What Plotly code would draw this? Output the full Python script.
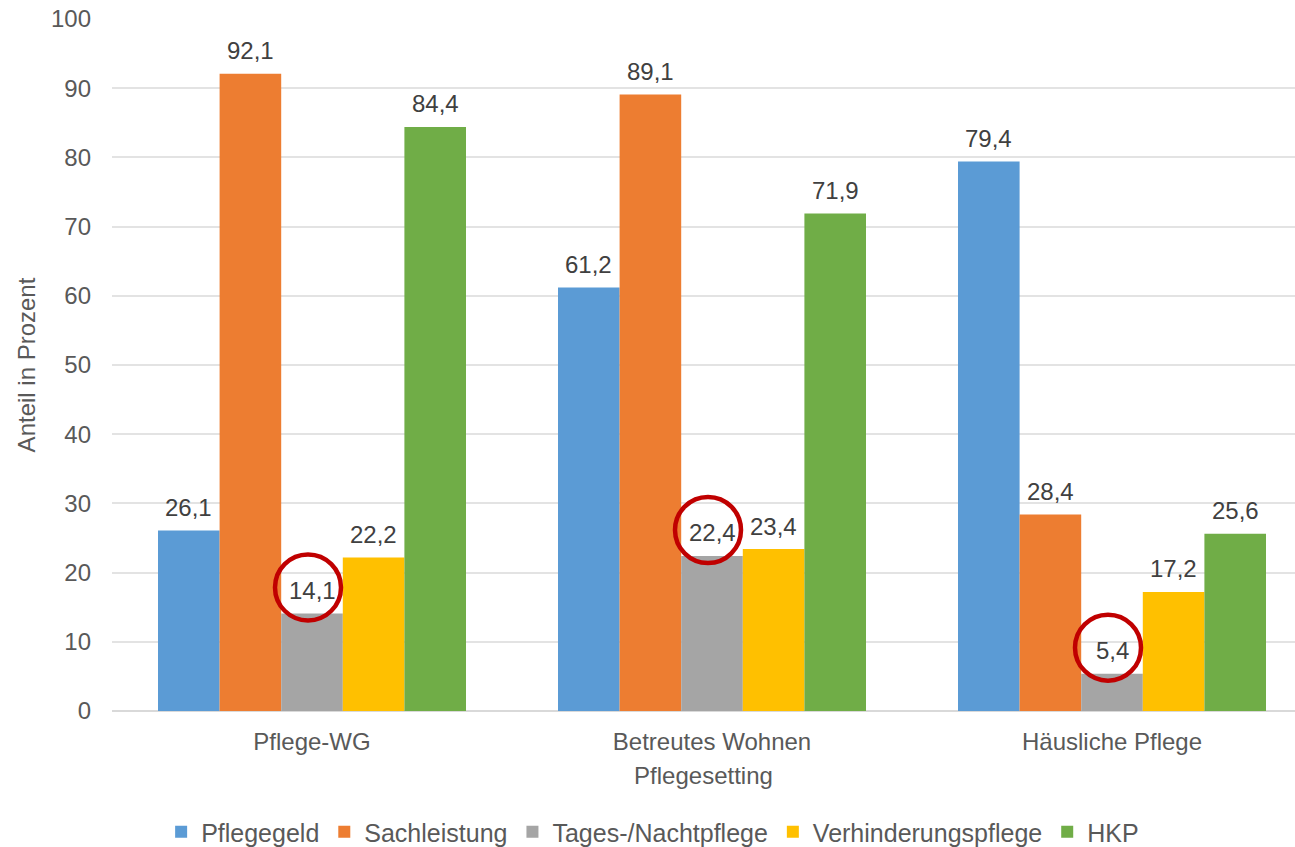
import plotly.graph_objects as go

categories = ["Pflege-WG", "Betreutes Wohnen", "Häusliche Pflege"]
series_names = ["Pflegegeld", "Sachleistung", "Tages-/Nachtpflege", "Verhinderungspflege", "HKP"]
pflegegeld = [26.1, 61.2, 79.4]
sachleistung = [92.1, 89.1, 28.4]
tagespflege = [14.1, 22.4, 5.4]
verhinderung = [22.2, 23.4, 17.2]
hkp = [84.4, 71.9, 25.6]
y_ticks = [0, 10, 20, 30, 40, 50, 60, 70, 80, 90, 100]
circled_series = "Tages-/Nachtpflege"

colors = ["#5B9BD5", "#ED7D31", "#A5A5A5", "#FFC000", "#70AD47"]
values = [pflegegeld, sachleistung, tagespflege, verhinderung, hkp]
xpos = list(range(len(categories)))

FONT = "Liberation Sans, Arial, sans-serif"
TXT = "#595959"
BARGAP = 0.23
n = len(series_names)
bw = (1 - BARGAP) / n

fig = go.Figure()
for name, col, vals in zip(series_names, colors, values):
    fig.add_trace(go.Bar(x=xpos, y=vals, name=name, marker=dict(color=col, line=dict(width=0))))

annotations = []
shapes = []
for i, (name, vals) in enumerate(zip(series_names, values)):
    off = (i - (n - 1) / 2) * bw
    for j, v in enumerate(vals):
        annotations.append(dict(
            x=xpos[j] + off, y=v, xref="x", yref="y",
            text=f"{v:.1f}".replace(".", ","), showarrow=False,
            yanchor="middle", xanchor="center", yshift=23,
            font=dict(family=FONT, size=24, color="#404040")))
        if name == circled_series:
            shapes.append(dict(
                type="circle", xref="x", yref="y",
                xsizemode="pixel", ysizemode="pixel",
                xanchor=xpos[j] + off, yanchor=v,
                x0=-37, x1=29, y0=26 - 33, y1=26 + 33,
                line=dict(color="#C00000", width=4.5)))

fig.update_layout(
    width=1295, height=847,
    margin=dict(l=112, r=0, t=19, b=136, autoexpand=False),
    paper_bgcolor="white", plot_bgcolor="white",
    barmode="group", bargap=BARGAP, bargroupgap=0,
    font=dict(family=FONT, size=24, color=TXT),
    showlegend=True,
    legend=dict(orientation="h", x=0.457, xanchor="center", y=-0.175, yanchor="middle",
                font=dict(family=FONT, size=25, color=TXT), itemwidth=30, tracegroupgap=0),
    annotations=annotations,
    shapes=shapes,
    xaxis=dict(
        tickmode="array", tickvals=xpos, ticktext=categories,
        range=[-0.5, -0.5 + 1183 / 400], showgrid=False, zeroline=False,
        showline=False, ticks="", tickfont=dict(size=24, color=TXT),
        ticklabelstandoff=14, automargin=False,
        title=dict(text="Pflegesetting", font=dict(size=24, color=TXT), standoff=13),
    ),
    yaxis=dict(
        range=[0, 100], tickmode="array", tickvals=y_ticks,
        showgrid=True, gridcolor="#E3E3E3", gridwidth=1.5,
        zeroline=True, zerolinecolor="#D9D9D9", zerolinewidth=2,
        showline=False, ticks="", tickfont=dict(size=24, color=TXT),
        ticklabelstandoff=20, automargin=False,
        title=dict(text="Anteil in Prozent", font=dict(size=24, color=TXT), standoff=8),
    ),
)

fig.write_html("out.html")
